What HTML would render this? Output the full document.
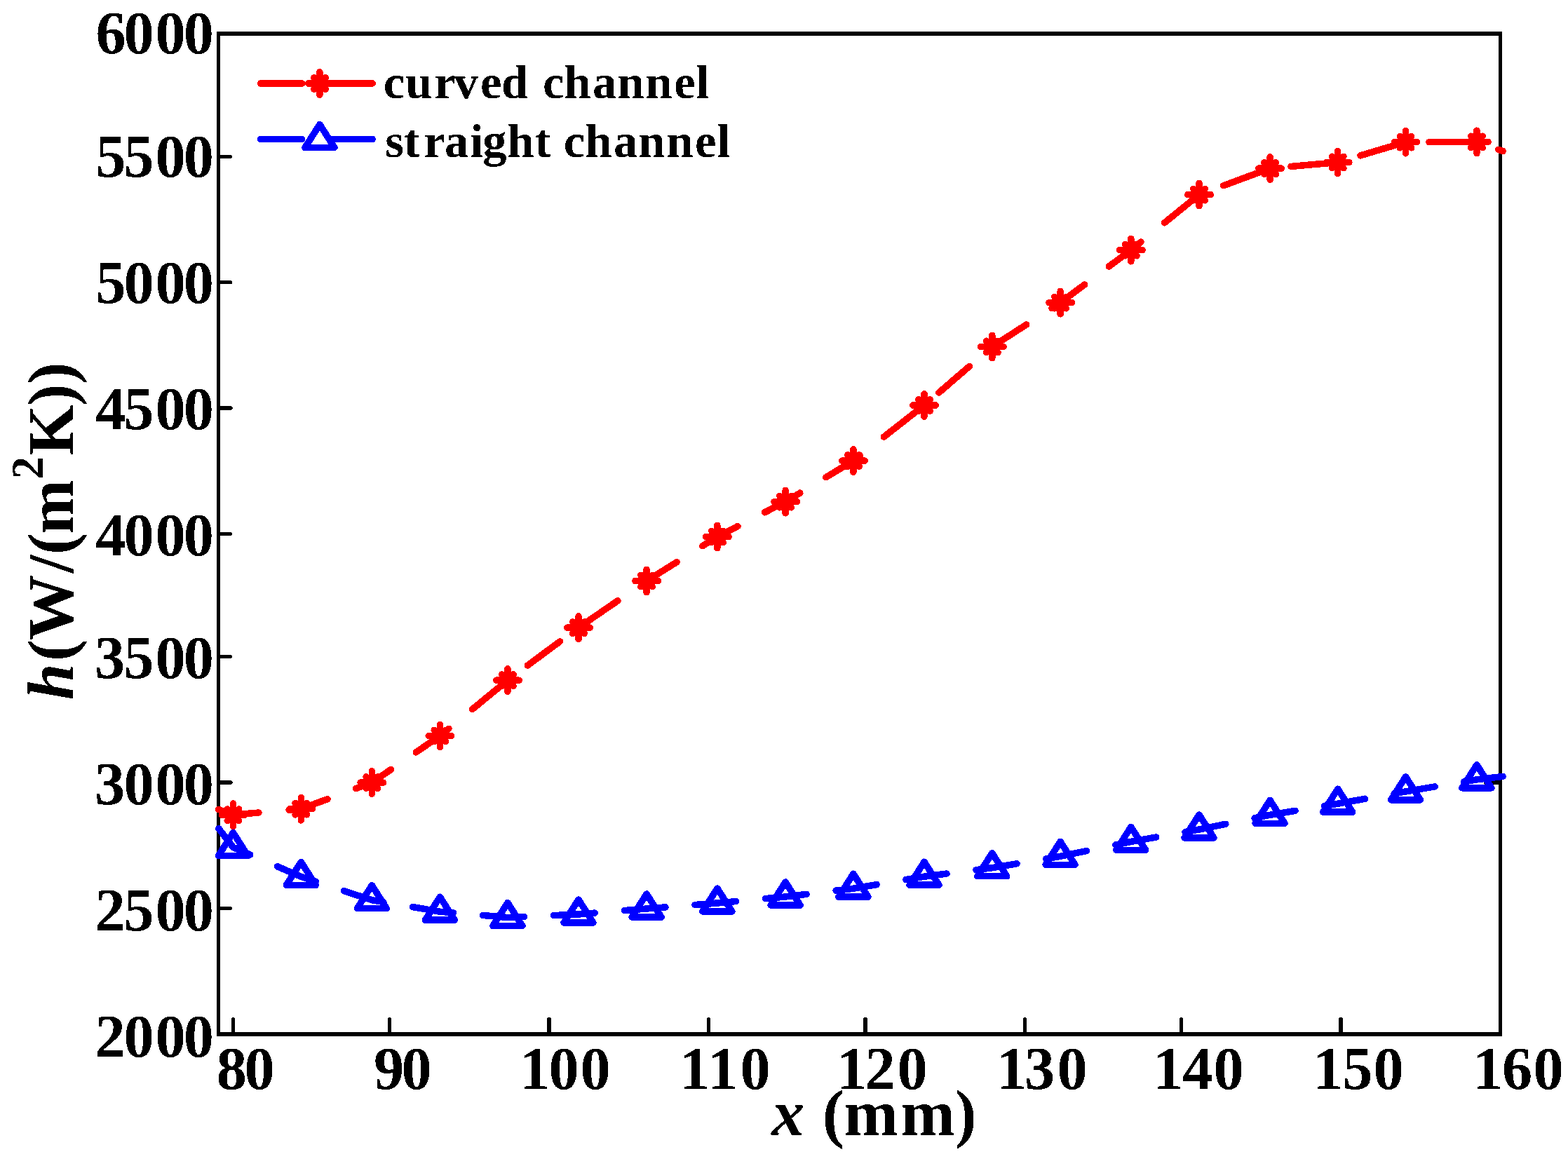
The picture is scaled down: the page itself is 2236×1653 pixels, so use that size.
<!DOCTYPE html>
<html lang="en"><head><meta charset="utf-8"><title>h versus x: curved channel and straight channel</title>
<style>
html,body{margin:0;padding:0;background:#fff}
body{width:2236px;height:1653px;overflow:hidden}
svg{display:block}
text{font-family:"Liberation Serif","Times New Roman",Times,serif;font-weight:bold;fill:#000}
.tk{font-size:86.3px}
.lg{font-size:68.6px}
.ax{font-size:93.3px}
.it{font-style:italic}
.sup{font-size:65px}
.r{stroke:#f00;stroke-width:9.5;stroke-linecap:round;stroke-linejoin:round;fill:none}
.b{stroke:#00f;stroke-width:9.5;stroke-linecap:round;stroke-linejoin:round;fill:none}
.k{stroke:#000;stroke-linecap:round;fill:none}
</style></head>
<body>
<svg width="2236" height="1653" viewBox="0 0 2236 1653">
<rect width="2236" height="1653" fill="#fff"/>
<defs><filter id="bin" x="0" y="0" width="2236" height="1653" filterUnits="userSpaceOnUse" color-interpolation-filters="sRGB"><feComponentTransfer><feFuncA type="discrete" tableValues="0 1"/></feComponentTransfer></filter></defs>
<g id="axes" fill="#000" shape-rendering="crispEdges">
<rect x="309" y="45" width="1833" height="6"/>
<rect x="309" y="1472" width="1833" height="6"/>
<rect x="309" y="45" width="5" height="1433"/>
<rect x="2137" y="45" width="5" height="1433"/>
</g>
<g id="ticks" class="k" shape-rendering="crispEdges">
<line x1="332.5" y1="1473" x2="332.5" y2="1453.4" stroke-width="5"/>
<line x1="555.5" y1="1473" x2="555.5" y2="1453.4" stroke-width="5"/>
<line x1="783.1" y1="1473" x2="783.1" y2="1453.7" stroke-width="5.6"/>
<line x1="1010.5" y1="1473" x2="1010.5" y2="1453.4" stroke-width="5"/>
<line x1="1234" y1="1473" x2="1234" y2="1453.7" stroke-width="5.6"/>
<line x1="1461.5" y1="1473" x2="1461.5" y2="1453.4" stroke-width="5"/>
<line x1="1684.5" y1="1473" x2="1684.5" y2="1453.4" stroke-width="5"/>
<line x1="1912.1" y1="1473" x2="1912.1" y2="1453.7" stroke-width="5.6"/>
<line x1="313" y1="223.5" x2="328.7" y2="223.5" stroke-width="5"/>
<line x1="313" y1="402.6" x2="328.7" y2="402.6" stroke-width="5"/>
<line x1="313" y1="582" x2="328.7" y2="582" stroke-width="5.8"/>
<line x1="313" y1="761.6" x2="328.7" y2="761.6" stroke-width="5"/>
<line x1="313" y1="936.5" x2="328.7" y2="936.5" stroke-width="5"/>
<line x1="313" y1="1116" x2="328.7" y2="1116" stroke-width="5.8"/>
<line x1="313" y1="1295.5" x2="328.7" y2="1295.5" stroke-width="5"/>
<line x1="2138" y1="1116" x2="2118.5" y2="1116" stroke-width="6"/>
</g>
<g id="ylabels" class="tk" filter="url(#bin)">
<text x="136.62 176.53 221.58 261.63" y="76.1">6000</text>
<text x="136.16 176.31 221.58 261.63" y="252.2">5500</text>
<text x="136.16 176.53 221.58 261.63" y="432.1">5000</text>
<text x="136.14 176.31 221.58 261.63" y="612.1">4500</text>
<text x="136.14 176.53 221.58 261.63" y="792.1">4000</text>
<text x="134.88 176.31 221.58 261.63" y="967.4">3500</text>
<text x="134.88 176.53 221.58 261.63" y="1147.2">3000</text>
<text x="135.38 176.31 221.58 261.63" y="1327.1">2500</text>
<text x="135.38 176.53 221.58 261.63" y="1507.1">2000</text>
</g>
<g id="xlabels" class="tk" filter="url(#bin)">
<text x="308.82 348.57" y="1553.3">80</text>
<text x="532.91 572.38" y="1553.3">90</text>
<text x="741.08 782.47 827.47" y="1553.3">100</text>
<text x="969.13 1009.18 1055.62" y="1553.3">110</text>
<text x="1193.13 1233.47 1279.47" y="1553.3">120</text>
<text x="1421.08 1460.98 1507.48" y="1553.3">130</text>
<text x="1644.08 1686.19 1730.47" y="1553.3">140</text>
<text x="1872.08 1914.16 1958.42" y="1553.3">150</text>
<text x="2100.03 2141.93 2186.53" y="1553.3">160</text>
</g>
<g id="axislabels" filter="url(#bin)">
<text id="xlabel" class="ax" y="1618.9"><tspan class="it" x="1100.54">x</tspan><tspan x="1147.19 1172.76 1203.08 1284.08 1361.52"> (mm)</tspan></text>
<text id="ylabel" class="ax" transform="rotate(-90)" y="104"><tspan class="it" x="-998.29">h</tspan><tspan x="-943.09 -912.97 -817.51 -791.04 -762.07">(W/(m</tspan><tspan class="sup" x="-683.5" dy="-43">2</tspan><tspan x="-649.57 -578.83 -547.68" dy="43">K))</tspan></text>
</g>
<g id="curved" shape-rendering="crispEdges">
<path class="r" d="M311.9,1154.5 L332.5,1162.2 L429.3,1153.7 L530.3,1116.1 L627.4,1049.5 L723.9,970.2 L825,895.2 L922.1,828.5 L1022.9,765.5 L1120.1,715.6 L1216.9,657.1 L1318,578 L1414.8,494.5 L1512.1,431.6 L1612.8,356.6 L1710,277.6 L1811.1,240.1 L1907.7,231.5 L2004.5,202.6 L2105.9,202.4 L2143.1,215.5" stroke-dasharray="57.5 43.28" stroke-dashoffset="-1.07"/>
<path class="r" d="M311.7,1154.5h0.4"/>
<path class="r" d="M316.25,1162.2h32.5M332.5,1145.95v32.5M324.25,1153.95l16.5,16.5M324.25,1170.45l16.5,-16.5"/>
<path class="r" d="M413.05,1153.7h32.5M429.3,1137.45v32.5M421.05,1145.45l16.5,16.5M421.05,1161.95l16.5,-16.5"/>
<path class="r" d="M514.05,1116.1h32.5M530.3,1099.85v32.5M522.05,1107.85l16.5,16.5M522.05,1124.35l16.5,-16.5"/>
<path class="r" d="M611.15,1049.5h32.5M627.4,1033.25v32.5M619.15,1041.25l16.5,16.5M619.15,1057.75l16.5,-16.5"/>
<path class="r" d="M707.65,970.2h32.5M723.9,953.95v32.5M715.65,961.95l16.5,16.5M715.65,978.45l16.5,-16.5"/>
<path class="r" d="M808.75,895.2h32.5M825,878.95v32.5M816.75,886.95l16.5,16.5M816.75,903.45l16.5,-16.5"/>
<path class="r" d="M905.85,828.5h32.5M922.1,812.25v32.5M913.85,820.25l16.5,16.5M913.85,836.75l16.5,-16.5"/>
<path class="r" d="M1006.65,765.5h32.5M1022.9,749.25v32.5M1014.65,757.25l16.5,16.5M1014.65,773.75l16.5,-16.5"/>
<path class="r" d="M1103.85,715.6h32.5M1120.1,699.35v32.5M1111.85,707.35l16.5,16.5M1111.85,723.85l16.5,-16.5"/>
<path class="r" d="M1200.65,657.1h32.5M1216.9,640.85v32.5M1208.65,648.85l16.5,16.5M1208.65,665.35l16.5,-16.5"/>
<path class="r" d="M1301.75,578h32.5M1318,561.75v32.5M1309.75,569.75l16.5,16.5M1309.75,586.25l16.5,-16.5"/>
<path class="r" d="M1398.55,494.5h32.5M1414.8,478.25v32.5M1406.55,486.25l16.5,16.5M1406.55,502.75l16.5,-16.5"/>
<path class="r" d="M1495.85,431.6h32.5M1512.1,415.35v32.5M1503.85,423.35l16.5,16.5M1503.85,439.85l16.5,-16.5"/>
<path class="r" d="M1596.55,356.6h32.5M1612.8,340.35v32.5M1604.55,348.35l16.5,16.5M1604.55,364.85l16.5,-16.5"/>
<path class="r" d="M1693.75,277.6h32.5M1710,261.35v32.5M1701.75,269.35l16.5,16.5M1701.75,285.85l16.5,-16.5"/>
<path class="r" d="M1794.85,240.1h32.5M1811.1,223.85v32.5M1802.85,231.85l16.5,16.5M1802.85,248.35l16.5,-16.5"/>
<path class="r" d="M1891.45,231.5h32.5M1907.7,215.25v32.5M1899.45,223.25l16.5,16.5M1899.45,239.75l16.5,-16.5"/>
<path class="r" d="M1988.25,202.6h32.5M2004.5,186.35v32.5M1996.25,194.35l16.5,16.5M1996.25,210.85l16.5,-16.5"/>
<path class="r" d="M2089.65,202.4h32.5M2105.9,186.15v32.5M2097.65,194.15l16.5,16.5M2097.65,210.65l16.5,-16.5"/>
</g>
<g id="straight" shape-rendering="crispEdges">
<path class="b" d="M311.9,1181.7 L332.5,1208.5 L429.3,1250.4 L530.3,1283.7 L627.4,1300.2 L723.9,1308.5 L825,1304 L922.1,1296 L1022.9,1288 L1120.1,1279 L1216.9,1267.2 L1318,1250.2 L1414.8,1237.7 L1512.1,1221.3 L1612.8,1200.4 L1710,1183 L1811.1,1162.3 L1907.7,1146.2 L2004.5,1128.9 L2105.9,1111.8 L2143.1,1107.4" stroke-dasharray="58.8 42.24" stroke-dashoffset="-1.47"/>
<path class="b" d="M311.7,1181.7h0.4"/>
<path class="b" stroke-width="10" d="M332.5,1187.5L353.5,1220.5H311.5Z"/>
<path class="b" stroke-width="10" d="M429.3,1229.4L450.3,1262.4H408.3Z"/>
<path class="b" stroke-width="10" d="M530.3,1262.7L551.3,1295.7H509.3Z"/>
<path class="b" stroke-width="10" d="M627.4,1279.2L648.4,1312.2H606.4Z"/>
<path class="b" stroke-width="10" d="M723.9,1287.5L744.9,1320.5H702.9Z"/>
<path class="b" stroke-width="10" d="M825,1283L846,1316H804Z"/>
<path class="b" stroke-width="10" d="M922.1,1275L943.1,1308H901.1Z"/>
<path class="b" stroke-width="10" d="M1022.9,1267L1043.9,1300H1001.9Z"/>
<path class="b" stroke-width="10" d="M1120.1,1258L1141.1,1291H1099.1Z"/>
<path class="b" stroke-width="10" d="M1216.9,1246.2L1237.9,1279.2H1195.9Z"/>
<path class="b" stroke-width="10" d="M1318,1229.2L1339,1262.2H1297Z"/>
<path class="b" stroke-width="10" d="M1414.8,1216.7L1435.8,1249.7H1393.8Z"/>
<path class="b" stroke-width="10" d="M1512.1,1200.3L1533.1,1233.3H1491.1Z"/>
<path class="b" stroke-width="10" d="M1612.8,1179.4L1633.8,1212.4H1591.8Z"/>
<path class="b" stroke-width="10" d="M1710,1162L1731,1195H1689Z"/>
<path class="b" stroke-width="10" d="M1811.1,1141.3L1832.1,1174.3H1790.1Z"/>
<path class="b" stroke-width="10" d="M1907.7,1125.2L1928.7,1158.2H1886.7Z"/>
<path class="b" stroke-width="10" d="M2004.5,1107.9L2025.5,1140.9H1983.5Z"/>
<path class="b" stroke-width="10" d="M2105.9,1090.8L2126.9,1123.8H2084.9Z"/>
</g>
<g id="legend" shape-rendering="crispEdges">
<path class="r" d="M371.6,119.0H531.2" stroke-dasharray="59 41.9"/>
<path class="r" d="M439.65,119h32.5M455.9,102.75v32.5M447.65,110.75l16.5,16.5M447.65,127.25l16.5,-16.5"/>
<path class="b" d="M371.6,198.5H531.2" stroke-dasharray="59 41.9"/>
<path class="b" stroke-width="10" d="M455.9,177.5L476.9,210.5H434.9Z"/>
</g>
<g id="legendtext" filter="url(#bin)">
<text class="lg" x="546.82 578.36 619.47 647.5 685.12 714.88 745.75 773.97 804.4 844.99 880.55 920.5 961.27 992.45" y="139.8">curved channel</text>
<text class="lg" x="549.25 575.82 604.57 633.89 670.17 688.34 723.55 762.62 793.49 803.87 834.5 874.89 910.35 950.4 991.02 1022.5" y="223.7">straight channel</text>
</g>
</svg>
</body></html>
